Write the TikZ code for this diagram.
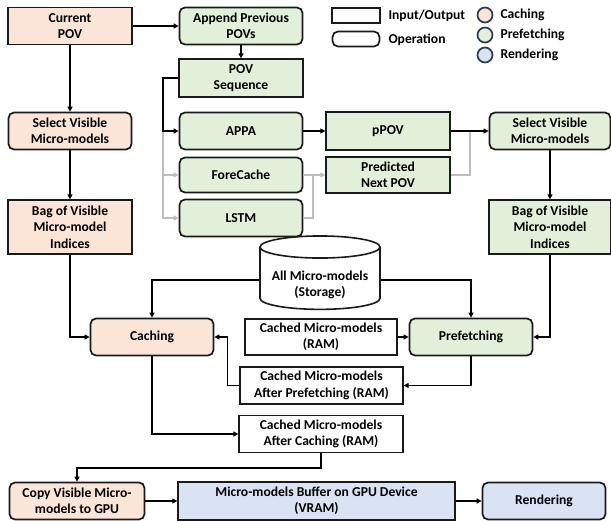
\documentclass[tikz,border=0pt]{standalone}
\usepackage{fontspec}
\setmainfont{Carlito}
\usetikzlibrary{positioning,shapes.geometric,arrows.meta,calc}

\definecolor{cachefill}{HTML}{FBE5D6}
\definecolor{preffill}{HTML}{E2F0D9}
\definecolor{rendfill}{HTML}{DAE3F3}
\definecolor{edgecol}{HTML}{1A1A1A}
\definecolor{altcol}{HTML}{BDBDBD}
\definecolor{ringcol}{HTML}{2F3B55}

\begin{document}
\begin{tikzpicture}[
  x=1pt, y=-1pt,
  font=\fontsize{13.6}{16.5}\selectfont\bfseries,
  iobox/.style    = {draw=edgecol, line width=1.3pt, align=center,
                     inner sep=2pt},
  opbox/.style    = {iobox, rounded corners=5.5pt, line width=1.7pt},
  cachestyle/.style = {fill=cachefill},
  prefstyle/.style  = {fill=preffill},
  rendstyle/.style  = {fill=rendfill},
  storage/.style  = {draw=edgecol, line width=1.6pt, cylinder,
                     shape border rotate=90, aspect=0.22, align=center,
                     minimum width=120pt, minimum height=55pt, inner sep=2pt},
  ring/.style     = {draw=ringcol, circle, line width=1.7pt,
                     minimum size=15pt, inner sep=0pt},
  arrow/.style    = {-{Triangle[length=5pt,width=5pt]}, line width=1.5pt,
                     draw=black},
  altarrow/.style = {-{Triangle[length=5pt,width=5pt]}, line width=1.5pt,
                     draw=altcol},
  altline/.style  = {line width=1.5pt, draw=altcol},
]
\useasboundingbox (0,0) rectangle (611,521);

% ===== Legend =====
\node[iobox, minimum width=48pt, minimum height=15pt] (keyio) at (356,15.5) {};
\node[anchor=west] (keyiotxt) at (385,15.5) {Input/Output};
\node[opbox, minimum width=47pt, minimum height=15pt] (keyop) at (356,39) {};
\node[anchor=west] (keyoptxt) at (385,39.5) {Operation};
\node[ring, fill=cachefill] (keycach) at (485,15) {};
\node[anchor=west] (keycachtxt) at (497,15) {Caching};
\node[ring, fill=preffill] (keypref) at (485,35) {};
\node[anchor=west] (keypreftxt) at (497,35) {Prefetching};
\node[ring, fill=rendfill] (keyrend) at (485,55) {};
\node[anchor=west] (keyrendtxt) at (497,55) {Rendering};

% ===== Caching path (left column) =====
\node[iobox, cachestyle, minimum width=124pt, minimum height=37pt]
      (curpov) at (70,26) {Current\\POV};
\node[opbox, cachestyle, minimum width=123pt, minimum height=37pt]
      (selectL) at (70,131) {Select Visible\\Micro-models};
\node[iobox, cachestyle, minimum width=124pt, minimum height=54pt]
      (bagL) at (70,227) {Bag of Visible\\Micro-model\\Indices};

% ===== Prediction path =====
\node[opbox, prefstyle, minimum width=123pt, minimum height=37pt]
      (append) at (241,26) {Append Previous\\POVs};
\node[iobox, prefstyle, minimum width=124pt, minimum height=38pt]
      (povseq) at (241,78) {POV\\Sequence};
\node[opbox, prefstyle, minimum width=123pt, minimum height=37pt]
      (appa) at (241,131) {APPA};
\node[opbox, prefstyle, minimum width=123pt, minimum height=35pt]
      (forecache) at (241,175) {ForeCache};
\node[opbox, prefstyle, minimum width=123pt, minimum height=37pt]
      (lstm) at (241,218) {LSTM};
\node[iobox, prefstyle, minimum width=124pt, minimum height=38pt]
      (ppov) at (388,131) {pPOV};
\node[iobox, prefstyle, minimum width=124pt, minimum height=36pt]
      (nextpov) at (388,175) {Predicted\\Next POV};
\node[opbox, prefstyle, minimum width=121pt, minimum height=37pt]
      (selectR) at (550,131) {Select Visible\\Micro-models};
\node[iobox, prefstyle, minimum width=122pt, minimum height=54pt]
      (bagR) at (550,227) {Bag of Visible\\Micro-model\\Indices};

\coordinate (split) at (163,131);
\coordinate (join) at (313,175);
\coordinate (merge) at (470,131);

% ===== Memory =====
\node[storage] (allmm) at (320,280) {\\[3pt]All Micro-models\\(Storage)};
\node[iobox, minimum width=152pt, minimum height=36pt]
      (ram) at (321,337) {Cached Micro-models\\(RAM)};
\node[opbox, cachestyle, minimum width=123pt, minimum height=37pt]
      (caching) at (152,337) {Caching};
\node[opbox, prefstyle, minimum width=123pt, minimum height=37pt]
      (prefetch) at (471,337) {Prefetching};
\node[iobox, minimum width=163pt, minimum height=37pt]
      (ramP) at (321.5,385.5) {Cached Micro-models\\After Prefetching (RAM)};
\node[iobox, minimum width=164pt, minimum height=37pt]
      (ramC) at (321,434) {Cached Micro-models\\After Caching (RAM)};

% ===== GPU =====
\node[opbox, cachestyle, minimum width=135pt, minimum height=37pt]
      (copy) at (77,501) {Copy Visible Micro-\\models to GPU};
\node[iobox, rendstyle, minimum width=277pt, minimum height=38pt]
      (vram) at (316.5,501) {Micro-models Buffer on GPU Device\\(VRAM)};
\node[opbox, rendstyle, minimum width=123pt, minimum height=37pt]
      (render) at (544,501) {Rendering};

% ===== Connectors =====
\draw[arrow] (curpov.east) -- (append.west);
\draw[arrow] (append.south) -- (povseq.north);
\draw[arrow] (curpov.south) -- (selectL.north);
\draw[arrow] (selectL.south) -- (bagL.north);

% alternative predictors in gray
\draw[altline] (split) -- ($(split |- lstm.west)$);
\draw[altarrow] (split) |- (forecache.west);
\draw[altarrow] (split) |- (lstm.west);
\draw[altline] (forecache.east) -- (join);
\draw[altline] (lstm.east) -| (join);
\draw[altarrow] (join) -- (nextpov.west);
\draw[altline] (nextpov.east) -| (merge);

\draw[arrow] (povseq.west) -| (split) -- (appa.west);
\draw[arrow] (appa.east) -- (ppov.west);
\draw[arrow] (ppov.east) -- (selectR.west);
\draw[arrow] (selectR.south) -- (bagR.north);

\draw[arrow] (bagR.south) |- (prefetch.east);
\draw[arrow] (bagL.south) |- (caching.west);
\draw[arrow] (allmm.west) -| (caching.north);
\draw[arrow] (allmm.east) -| (prefetch.north);
\draw[arrow] (ram.east) -- (prefetch.west);
\draw[arrow] (prefetch.south) |- (ramP.east);
\draw[arrow] (ramP.west) -- ++(-12,0) |- (caching.east);
\draw[arrow] (caching.south) |- (ramC.west);
\draw[arrow] (ramC.south) -- ++(0,15) -| (copy.north);
\draw[arrow] (copy.east) -- (vram.west);
\draw[arrow] (vram.east) -- (render.west);

\end{tikzpicture}
\end{document}
